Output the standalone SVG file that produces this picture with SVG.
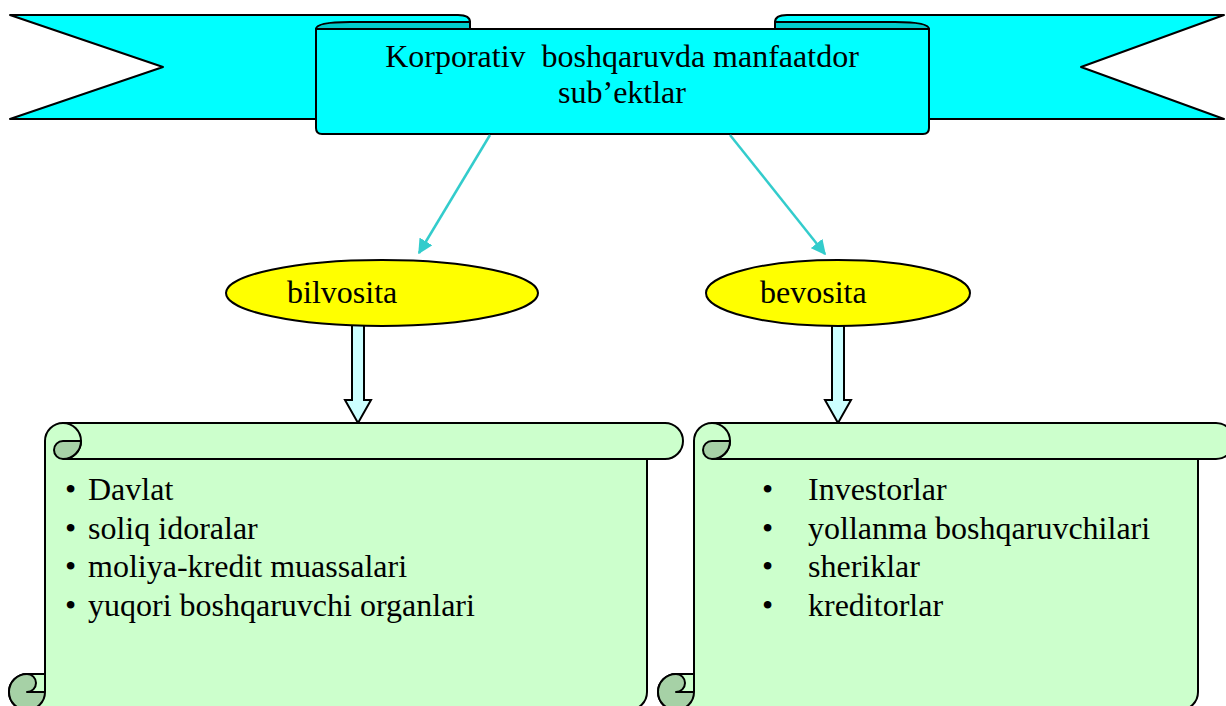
<svg xmlns="http://www.w3.org/2000/svg" width="1226" height="706" viewBox="0 0 1226 706">
<defs>
<style>
.ol{stroke:#000;stroke-width:2;stroke-linejoin:round}
.cy{fill:#00FFFF}
.dcy{fill:#00CCCC}
.gr{fill:#CCFFCC}
.dgr{fill:#A6D1A6}
.nf{fill:none}
.t{font-family:"Liberation Serif","Times New Roman",serif;font-size:32px;fill:#000}
.con{stroke:#33CCCC;stroke-width:2.5;fill:none}
.blk{fill:#CCFFFF;stroke:#000;stroke-width:2;stroke-linejoin:miter}
.ell{fill:#FFFF00;stroke:#000;stroke-width:2}
</style>
<marker id="ah" viewBox="0 0 10 10" refX="9" refY="5" markerWidth="6" markerHeight="6" orient="auto" markerUnits="strokeWidth">
<path d="M0,0 L10,5 L0,10 Z" fill="#33CCCC"/>
</marker>
</defs>
<rect width="1226" height="706" fill="#FFFFFF"/>

<g id="banner">
<path class="ol cy" d="M10,15 L458,15 Q470,15 470,22 L470,119 L10,119 L163,67 Z"/>
<path class="ol cy" d="M1224,15 L787,15 Q775,15 775,22 L775,119 L1224,119 L1081,67 Z"/>
<path class="ol cy" d="M316,29 L929,29 L929,128 Q929,134 923,134 L322,134 Q316,134 316,128 Z"/>
<path class="ol dcy" d="M316,29 C316,24 330,22 350,22 L470,22 L470,29 Z"/>
<path class="ol dcy" d="M775,22 L895,22 C915,22 929,24 929,29 L775,29 Z"/>
<text class="t" x="622" y="67" text-anchor="middle" xml:space="preserve">Korporativ  boshqaruvda manfaatdor</text>
<text class="t" x="622" y="103" text-anchor="middle">sub’ektlar</text>
</g>

<g id="connectors">
<line class="con" x1="490" y1="135" x2="419" y2="253" marker-end="url(#ah)"/>
<line class="con" x1="730" y1="135" x2="825" y2="254" marker-end="url(#ah)"/>
<path class="blk" d="M352,320 L364,320 L364,400 L371,400 L358,423 L345,400 L352,400 Z"/>
<path class="blk" d="M832,320 L844,320 L844,400 L851,400 L838,423 L825,400 L832,400 Z"/>
</g>

<g id="bilvosita">
<ellipse class="ell" cx="382" cy="293" rx="156" ry="33"/>
<text class="t" x="287" y="303">bilvosita</text>
</g>

<g id="bevosita">
<ellipse class="ell" cx="838" cy="293" rx="132" ry="33"/>
<text class="t" x="760" y="303">bevosita</text>
</g>

<g id="scroll-left">
<path class="ol gr" d="M45,441 A18,18 0 0 1 63,423 L665,423 A18,18 0 0 1 665,459 L647,459 L647,692 A18,18 0 0 1 629,710 L27,710 A18,18 0 0 1 27,674 L45,674 Z"/>
<path class="ol nf" d="M63,423 A18,18 0 0 1 63,459 M63,459 L647,459 M45,674 L45,692"/>
<path class="ol dgr" d="M63,441 L81,441 A18,18 0 0 1 63,459 A9,9 0 0 1 63,441 Z"/>
<path class="ol dgr" d="M27,674 A9,9 0 0 1 27,692 L45,692 A18,18 0 1 1 27,674 Z"/>
<text class="t"><tspan x="65" y="500">•</tspan><tspan x="88" y="500">Davlat</tspan></text>
<text class="t"><tspan x="65" y="538.5">•</tspan><tspan x="88" y="538.5">soliq idoralar</tspan></text>
<text class="t"><tspan x="65" y="577">•</tspan><tspan x="88" y="577">moliya-kredit muassalari</tspan></text>
<text class="t"><tspan x="65" y="615.5">•</tspan><tspan x="88" y="615.5">yuqori boshqaruvchi organlari</tspan></text>
</g>

<g id="scroll-right">
<path class="ol gr" d="M694,441 A18,18 0 0 1 712,423 L1216,423 A18,18 0 0 1 1216,459 L1198,459 L1198,692 A18,18 0 0 1 1180,710 L676,710 A18,18 0 0 1 676,674 L694,674 Z"/>
<path class="ol nf" d="M712,423 A18,18 0 0 1 712,459 M712,459 L1198,459 M694,674 L694,692"/>
<path class="ol dgr" d="M712,441 L730,441 A18,18 0 0 1 712,459 A9,9 0 0 1 712,441 Z"/>
<path class="ol dgr" d="M676,674 A9,9 0 0 1 676,692 L694,692 A18,18 0 1 1 676,674 Z"/>
<text class="t"><tspan x="762" y="500">•</tspan><tspan x="808" y="500">Investorlar</tspan></text>
<text class="t"><tspan x="762" y="538.5">•</tspan><tspan x="808" y="538.5">yollanma boshqaruvchilari</tspan></text>
<text class="t"><tspan x="762" y="577">•</tspan><tspan x="808" y="577">sheriklar</tspan></text>
<text class="t"><tspan x="762" y="615.5">•</tspan><tspan x="808" y="615.5">kreditorlar</tspan></text>
</g>
</svg>
